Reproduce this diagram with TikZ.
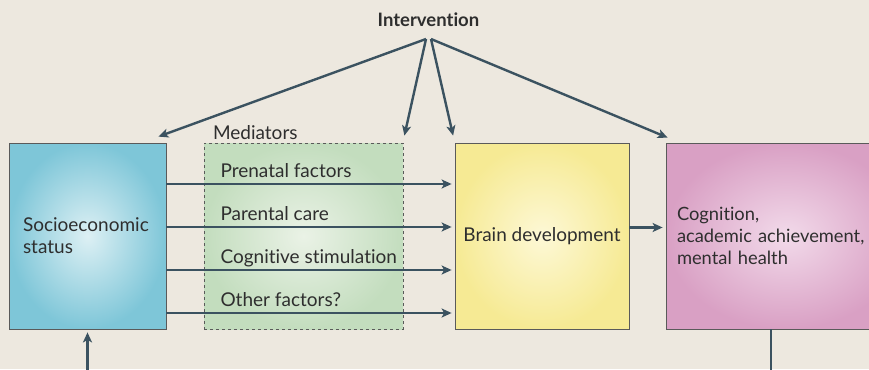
\documentclass[tikz,border=0pt]{standalone}
\usepackage{fontspec}
\setmainfont{Lato}[Ligatures=NoCommon]
\usetikzlibrary{arrows.meta}
\definecolor{bgcol}{HTML}{EDE8DF}
\definecolor{linkcol}{HTML}{3B5260}
\definecolor{boxline}{HTML}{5A5A5A}
\definecolor{txtcol}{HTML}{2E2E2E}
\definecolor{sesin}{HTML}{DDF0F4}
\definecolor{sesout}{HTML}{7EC6D8}
\definecolor{medin}{HTML}{EAF2E6}
\definecolor{medout}{HTML}{C3DDBE}
\definecolor{brainin}{HTML}{FDF8D6}
\definecolor{brainout}{HTML}{F6EA94}
\definecolor{cogin}{HTML}{F2DAEA}
\definecolor{cogout}{HTML}{D9A0C4}
\begin{document}
\begin{tikzpicture}[x=1pt,y=-1pt,
    font=\fontsize{19}{22}\selectfont,text=txtcol,
    box/.style={draw=boxline,line width=0.8pt,minimum height=186pt,inner sep=0pt},
    link/.style={draw=linkcol,line width=2.4pt,-{Stealth[length=10pt,width=9pt,inset=2.5pt]}},
    wire/.style={draw=linkcol,line width=2.4pt}]
  \fill[bgcol] (0,0) rectangle (869,369);
  \clip (0,0) rectangle (869,369);
  \draw
    (87.5,236) node[box,minimum width=157pt,inner color=sesin,outer color=sesout,
      text width=129pt,align=left] (ses){Socioeconomic\\status}
    (303.5,236) node[box,dashed,minimum width=199pt,inner color=medin,outer color=medout] (med){}
    (542,236) node[box,minimum width=174pt,inner color=brainin,outer color=brainout] (brain){Brain development}
    (786,236) node[box,minimum width=240pt,inner color=cogin,outer color=cogout,
      text width=218pt,align=left,font=\fontsize{18.3}{22}\selectfont] (cog){Cognition,\\academic achievement,\\mental health};
  \draw
    (209.5,139) node[anchor=base west] (medlbl){Mediators}
    (217,177) node[anchor=base west] (m1){Prenatal factors}
    (217,220) node[anchor=base west] (m2){Parental care}
    (217,263) node[anchor=base west] (m3){Cognitive stimulation}
    (217,306) node[anchor=base west] (m4){Other factors?}
    (428.5,26.5) node[anchor=base,font=\fontsize{18.5}{22}\bfseries] (intv){Intervention};
  \coordinate (hub) at (428.5,39);
  \coordinate (sesfeed) at (87.5,372);
  \coordinate (cogfeed) at (771,372);
  \begin{scope}[shorten >=3pt]
    \foreach \y in {184,227,270,313}
      \draw[link] (ses.east |- 0,\y) -- (brain.west |- 0,\y);
    \draw[link] (brain.east |- 0,227.5) -- (cog.west |- 0,227.5);
  \end{scope}
  \draw[link] ([xshift=-2.5pt]hub) -- ([shift={(-8,-6)}]ses.north east);
  \draw[link] ([xshift=-2.5pt]hub) -- ([shift={(1,-7)}]med.north east);
  \draw[link] ([xshift=2.5pt]hub) -- ([shift={(-1.5,-7)}]brain.north west);
  \draw[link] ([xshift=2.5pt]hub) -- ([shift={(2,-5)}]cog.north west);
  \draw[link] (sesfeed) -- ([shift={(0,3)}]ses.south);
  \draw[wire] (cog.south -| cogfeed) -- (cogfeed);
\end{tikzpicture}
\end{document}
